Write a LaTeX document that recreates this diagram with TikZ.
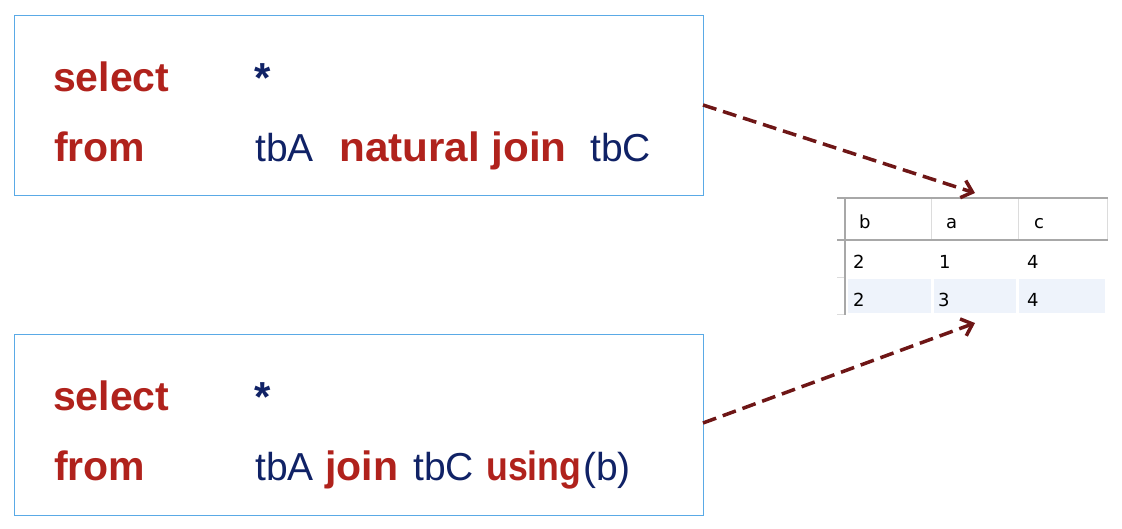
\documentclass[tikz,border=0pt]{standalone}
\usepackage{fontspec}
\setmainfont{Liberation Sans}
\newfontfamily\tabfont{DejaVu Sans}
\usetikzlibrary{arrows.meta}
\definecolor{kwred}{HTML}{B0221C}
\definecolor{navy}{HTML}{102266}
\definecolor{boxblue}{HTML}{5AAAE6}
\definecolor{arrred}{HTML}{6E1616}
\definecolor{gridgray}{HTML}{A8A8A8}
\definecolor{lightgrid}{HTML}{DCDCDC}
\definecolor{rowfill}{HTML}{EEF3FB}
\tikzset{
  sqlbox/.style={draw=boxblue, line width=1pt},
  kwtext/.style={anchor=base west, inner sep=0pt, text=kwred, font=\fontsize{41}{41}\selectfont\bfseries},
  identtext/.style={anchor=base west, inner sep=0pt, text=navy, font=\fontsize{39}{39}\selectfont},
  startext/.style={anchor=base west, inner sep=0pt, text=navy, font=\fontsize{42}{42}\selectfont\bfseries},
  celltext/.style={anchor=base west, inner sep=0pt, text=black, font=\tabfont\fontsize{18}{18}\selectfont},
  linkarrow/.style={draw=arrred, line width=3.5pt, dash pattern=on 14pt off 7pt, -{Straight Barb[length=10pt,width=18pt,line width=3.5pt]}}
}
\begin{document}
\begin{tikzpicture}[x=1pt,y=-1pt]
\useasboundingbox (0,0) rectangle (1122,528);
% boxes
\draw[sqlbox] (14,15) rectangle (703,195);
\draw[sqlbox] (14,334) rectangle (703,515);
\coordinate (b1out) at (703,105);
\coordinate (b2out) at (703,423);
% box 1 text
\node[kwtext] (s1) at (53,91) {select};
\node[startext] (st1) at (254,92) {*};
\node[kwtext] (f1) at (54,161) {from};
\node[identtext] (ta1) at (255,161) {tbA};
\node[kwtext] (nj1) at (339,161) {\scalebox{1.03}[1]{natural join}};
\node[identtext] (tc1) at (590,161) {tbC};
% box 2 text
\node[kwtext] (s2) at (53,410) {select};
\node[startext] (st2) at (254,411) {*};
\node[kwtext] (f2) at (54,480) {from};
\node[identtext] (ta2) at (255,480) {tbA};
\node[kwtext] (j2) at (325,480) {join};
\node[identtext] (tc2) at (413,480) {tbC};
\node[kwtext] (u2) at (486,480) {\scalebox{0.87}[1]{using}};
\node[identtext] (p2) at (583,480) {(b)};
% table
\fill[rowfill] (848,279) rectangle (931,313);
\fill[rowfill] (934,279) rectangle (1016,313);
\fill[rowfill] (1019,279) rectangle (1105,313);
\draw[lightgrid, line width=1pt] (931.5,198) -- (931.5,239) (1018,198) -- (1018,239) (1107,198) -- (1107,239);
\draw[lightgrid, line width=1pt] (837,277) -- (845,277) (837,314) -- (845,314);
\draw[gridgray, line width=2pt] (837,197.5) -- (1108,197.5);
\draw[gridgray, line width=2pt] (837,239.5) -- (1108,239.5);
\draw[gridgray, line width=2pt] (845,197) -- (845,315);
\coordinate (tabtop) at (975,193);
\coordinate (tabbot) at (975,323);
\node[celltext] (hb) at (859,228) {b};
\node[celltext] (ha) at (946,228) {a};
\node[celltext] (hc) at (1034,228) {c};
\node[celltext] (r1b) at (853,268) {2};
\node[celltext] (r1a) at (939,268) {1};
\node[celltext] (r1c) at (1027,268) {4};
\node[celltext] (r2b) at (853,306) {2};
\node[celltext] (r2a) at (938,306) {3};
\node[celltext] (r2c) at (1027,306) {4};
% arrows
\draw[linkarrow] (b1out) -- (tabtop);
\draw[linkarrow] (b2out) -- (tabbot);
\end{tikzpicture}
\end{document}
